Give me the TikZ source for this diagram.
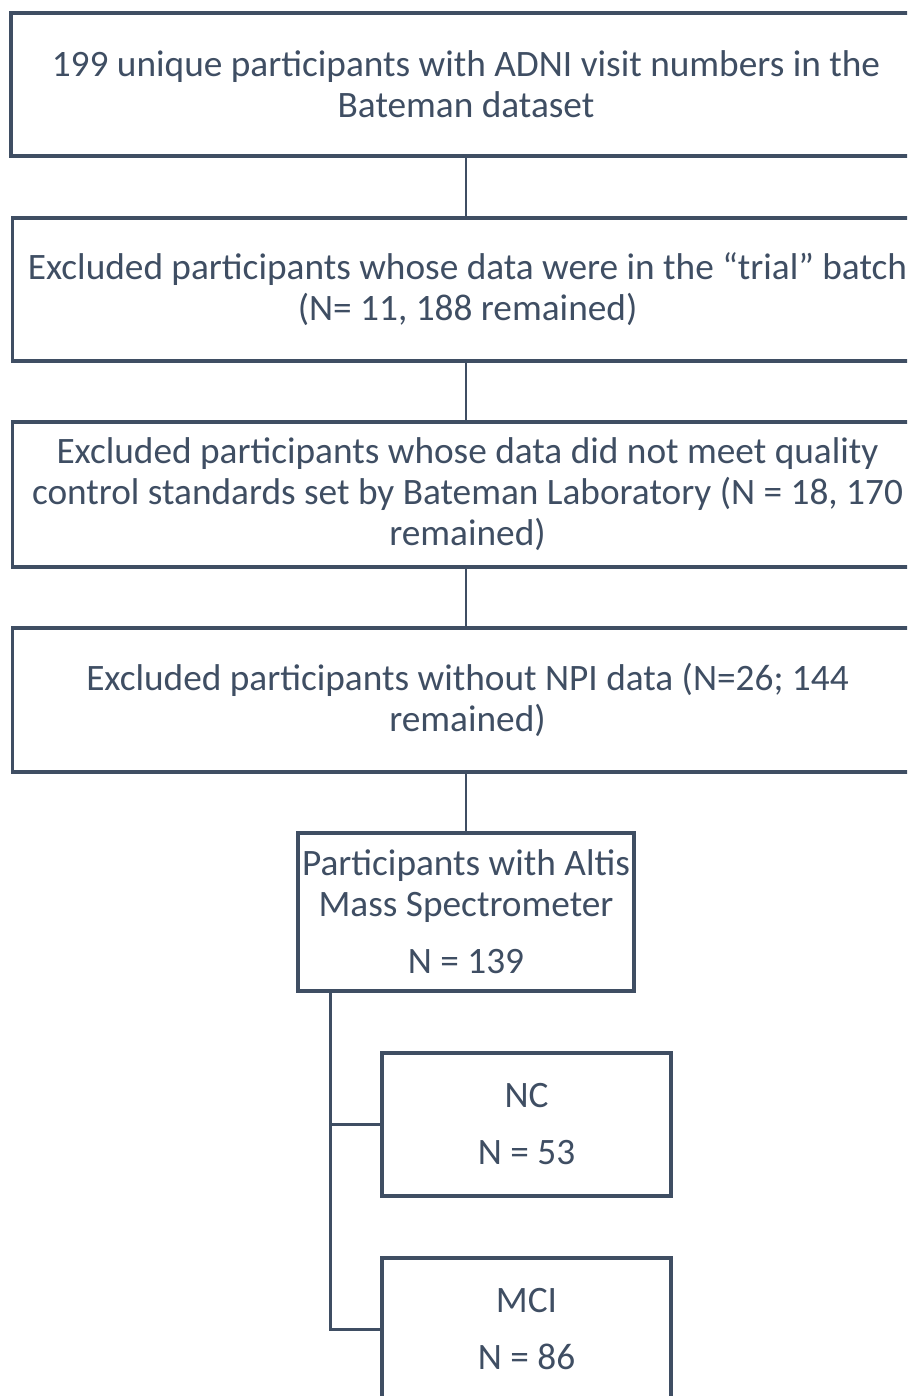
\documentclass[tikz,border=0pt]{standalone}
\usepackage{fontspec}
\setmainfont{Carlito}
\usetikzlibrary{positioning,calc}
\usepackage{xcolor}
\definecolor{slate}{RGB}{63,78,99}

\begin{document}
\begin{tikzpicture}[x=1pt, y=-1pt, font=\fontsize{37.3}{41}\selectfont, text=slate,
  stagebox/.style={draw=slate, line width=3.2pt, minimum width=910pt, minimum height=143pt, align=center, inner sep=0pt},
  groupbox/.style={draw=slate, line width=3.2pt, minimum height=143pt, align=center, inner sep=0pt},
  link/.style={draw=slate, line width=2.8pt}]
% Page frame (boxes run past the right edge)
\useasboundingbox (0,0) rectangle (907,1396);
\clip (0,0) rectangle (907,1396);

% Exclusion steps
\node[stagebox] (b1) at (466,84.5) {199 unique participants with ADNI visit numbers in the\\Bateman dataset};
\node[stagebox] (b2) at (467.5,289.5) {Excluded participants whose data were in the “trial” batch\\(N= 11, 188 remained)};
\node[stagebox, minimum height=145pt] (b3) at (467.5,494.5) {Excluded participants whose data did not meet quality\\control standards set by Bateman Laboratory (N = 18, 170\\remained)};
\node[stagebox, minimum height=144pt] (b4) at (467.5,700) {Excluded participants without NPI data (N=26; 144\\remained)};

% Final sample
\node[groupbox, minimum width=336pt, minimum height=158pt] (all) at (466,912) {Participants with Altis\\Mass Spectrometer\\[16pt]N = 139};

% Diagnostic groups
\node[groupbox, minimum width=289pt] (nc) at (526.5,1124.5) {NC\\[16pt]N = 53};
\node[groupbox, minimum width=289pt] (mci) at (526.5,1329.5) {MCI\\[16pt]N = 86};

%Edges
\foreach \v/\w in {b1/b2, b2/b3, b3/b4} {
  \draw[link] (\v.south -| 466,0) -- (\w.north -| 466,0);
}
\draw[link] (b4.south -| all.north) -- (all.north);
\coordinate (trunk) at ($(all.south west)+(34,0)$);
\draw[link] (trunk) |- (nc.west);
\draw[link] (trunk) |- (mci.west);
\end{tikzpicture}
\end{document}
